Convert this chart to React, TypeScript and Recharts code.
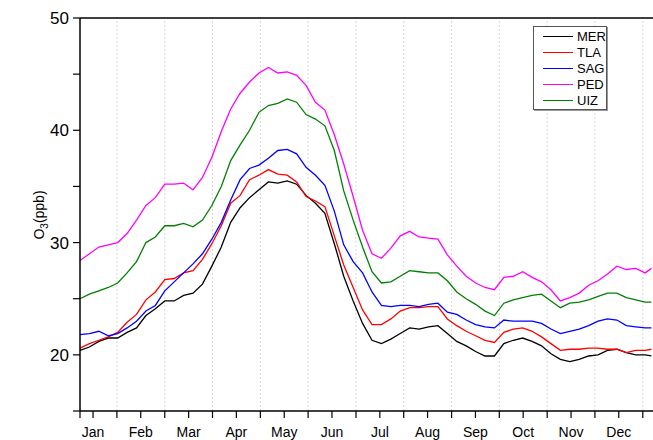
import { LineChart, Line, XAxis, YAxis, ReferenceLine } from 'recharts';

// day of year for each sample
const days = [
  0, 6, 12, 18, 24, 30, 36, 42, 48, 54, 60, 66, 72, 78, 84, 90, 96, 102, 108, 114, 120,
  126, 132, 138, 144, 150, 156, 162, 168, 174, 180, 186, 192, 198, 204, 210, 216, 222,
  228, 234, 240, 246, 252, 258, 264, 270, 276, 282, 288, 294, 300, 306, 312, 318, 324,
  330, 336, 342, 348, 354, 360, 364,
];

// O3 (ppb) per station
const mer = [
  20.4, 20.7, 21.2, 21.5, 21.5, 22.0, 22.4, 23.5, 24.1, 24.8, 24.8, 25.3, 25.5, 26.3, 27.9,
  29.6, 31.8, 33.1, 34.0, 34.7, 35.4, 35.3, 35.5, 35.2, 34.2, 33.5, 32.6, 29.9, 27.0, 24.8,
  22.8, 21.3, 21.0, 21.4, 21.9, 22.4, 22.3, 22.5, 22.6, 21.9, 21.2, 20.8, 20.3, 19.9, 19.9,
  21.0, 21.3, 21.5, 21.2, 20.8, 20.1, 19.6, 19.4, 19.6, 19.9, 20.0, 20.4, 20.5, 20.2, 20.0,
  20.0, 19.9,
];
const tla = [
  20.6, 21.0, 21.3, 21.6, 22.0, 22.9, 23.6, 24.9, 25.6, 26.7, 26.8, 27.3, 27.5, 28.5, 29.9,
  31.5, 33.5, 34.2, 35.6, 36.0, 36.5, 36.1, 36.0, 35.4, 34.1, 33.7, 33.2, 30.6, 28.0, 26.0,
  24.0, 22.7, 22.7, 23.2, 23.9, 24.2, 24.2, 24.3, 24.3, 23.2, 22.6, 22.1, 21.7, 21.3, 21.1,
  22.0, 22.3, 22.4, 22.1, 21.6, 21.0, 20.4, 20.5, 20.5, 20.6, 20.6, 20.5, 20.5, 20.2, 20.4,
  20.4, 20.5,
];
const sag = [
  21.8, 21.9, 22.1, 21.7, 21.9, 22.4, 23.0, 23.9, 24.4, 25.7, 26.5, 27.3, 28.1, 29.0, 30.3,
  31.8, 33.8, 35.6, 36.6, 36.9, 37.5, 38.2, 38.3, 37.9, 36.7, 36.0, 35.1, 32.8, 29.8, 28.3,
  27.3, 25.6, 24.4, 24.3, 24.4, 24.4, 24.3, 24.5, 24.6, 23.8, 23.6, 23.1, 22.7, 22.5, 22.4,
  23.1, 23.0, 23.0, 23.0, 22.8, 22.3, 21.9, 22.1, 22.3, 22.6, 23.0, 23.2, 23.1, 22.6, 22.5,
  22.4, 22.4,
];
const ped = [
  28.4, 29.0, 29.6, 29.8, 30.0, 30.8, 32.0, 33.3, 34.0, 35.2, 35.2, 35.3, 34.7, 35.8, 37.6,
  39.9, 41.9, 43.3, 44.3, 45.1, 45.6, 45.1, 45.2, 44.9, 44.0, 42.5, 41.8, 39.6, 37.0, 34.1,
  31.1, 29.0, 28.6, 29.5, 30.6, 31.0, 30.5, 30.4, 30.3, 28.9, 27.9, 27.0, 26.4, 26.0, 25.8,
  26.9, 27.0, 27.4, 26.9, 26.5, 25.8, 24.8, 25.1, 25.5, 26.2, 26.6, 27.2, 27.9, 27.6, 27.7,
  27.3, 27.7,
];
const uiz = [
  25.0, 25.4, 25.7, 26.0, 26.4, 27.3, 28.3, 30.0, 30.5, 31.5, 31.5, 31.7, 31.4, 32.0, 33.3,
  35.0, 37.3, 38.7, 40.0, 41.6, 42.2, 42.4, 42.8, 42.5, 41.4, 41.0, 40.4, 38.2, 34.6, 32.0,
  29.6, 27.4, 26.4, 26.5, 27.0, 27.5, 27.4, 27.3, 27.3, 26.6, 25.6, 25.0, 24.5, 23.9, 23.5,
  24.6, 24.9, 25.1, 25.3, 25.4, 24.8, 24.2, 24.6, 24.7, 24.9, 25.2, 25.5, 25.5, 25.1, 24.9,
  24.7, 24.7,
];

const months = ['Jan', 'Feb', 'Mar', 'Apr', 'May', 'Jun', 'Jul', 'Aug', 'Sep', 'Oct', 'Nov', 'Dec'];
const monthTicks = [8.3, 38.7, 69.2, 99.6, 130.1, 160.5, 191.0, 221.4, 251.9, 282.3, 312.8, 343.2];
const midTicks = [23.5, 54.0, 84.4, 114.9, 145.3, 175.8, 206.2, 236.7, 267.1, 297.6, 328.0, 358.5];
const yTicks = [15, 20, 25, 30, 35, 40, 45, 50];

const stations = [
  { key: 'MER', values: mer, color: '#000000' },
  { key: 'TLA', values: tla, color: '#ff0000' },
  { key: 'SAG', values: sag, color: '#0000ff' },
  { key: 'PED', values: ped, color: '#ff00ff' },
  { key: 'UIZ', values: uiz, color: '#008000' },
];

const data = days.map((d, i) => {
  const row: Record<string, number> = { day: d };
  stations.forEach((s) => (row[s.key] = s.values[i]));
  return row;
});

const font = '"Liberation Sans", Arial, sans-serif';

const xTicks = [0, ...monthTicks, ...midTicks].sort((a, b) => a - b);
const monthLabel = (v: number) => {
  const i = monthTicks.indexOf(v);
  return i >= 0 ? months[i] : '';
};

const StationLegend = () => (
  <div
    style={{
      position: 'absolute',
      left: 533,
      top: 26,
      width: 72,
      border: '1px solid #555',
      boxShadow: '1px 1px 0 #999',
      background: '#fff',
      padding: '1px 0 1px 0',
      fontFamily: font,
      fontSize: 13,
      color: '#000',
    }}
  >
    {stations.map((s) => (
      <div key={s.key} style={{ display: 'flex', alignItems: 'center', height: 16 }}>
        <span style={{ display: 'inline-block', width: 30, height: 0, borderTop: `1.5px solid ${s.color}`, marginLeft: 9, marginRight: 4 }} />
        <span>{s.key}</span>
      </div>
    ))}
  </div>
);

const YTitle = () => (
  <text transform="translate(44,215) rotate(-90)" textAnchor="middle" fontFamily={font} fontSize={14} fill="#000">
    O<tspan dy={4} fontSize={10}>3</tspan>
    <tspan dy={-4}>(ppb)</tspan>
  </text>
);

export default function App() {
  return (
    <div style={{ position: 'fixed', left: 0, top: 0, width: 653, height: 440, background: '#fff' }}>
      <LineChart width={653} height={440} data={data} margin={{ top: 18, right: 0, bottom: 0, left: 0 }}>
        {midTicks.map((d) => (
          <ReferenceLine key={d} x={d} stroke="#d8d8d8" strokeDasharray="2 2" strokeWidth={1} />
        ))}
        <ReferenceLine y={50} stroke="#000" strokeWidth={1.5} />
        <XAxis
          dataKey="day"
          type="number"
          domain={[0, 365]}
          ticks={xTicks}
          tickFormatter={monthLabel}
          interval={0}
          height={29}
          tickSize={7}
          tickMargin={9}
          axisLine={{ stroke: '#000', strokeWidth: 1.5 }}
          tickLine={{ stroke: '#000', strokeWidth: 1.2 }}
          tick={{ fill: '#000', fontSize: 14, fontFamily: font }}
        />
        <YAxis
          type="number"
          domain={[15, 50]}
          ticks={yTicks}
          interval={0}
          tickFormatter={(v: number) => (v % 10 === 0 ? String(v) : '')}
          width={80}
          tickSize={7}
          tickMargin={4}
          axisLine={{ stroke: '#000', strokeWidth: 1.5 }}
          tickLine={{ stroke: '#000', strokeWidth: 1.2 }}
          tick={{ fill: '#000', fontSize: 17, fontFamily: font }}
          label={{ content: () => <YTitle /> }}
        />
        {stations.map((s) => (
          <Line
            key={s.key}
            type="linear"
            dataKey={s.key}
            stroke={s.color}
            strokeWidth={1.3}
            dot={false}
            isAnimationActive={false}
          />
        ))}
      </LineChart>
      <StationLegend />
    </div>
  );
}
